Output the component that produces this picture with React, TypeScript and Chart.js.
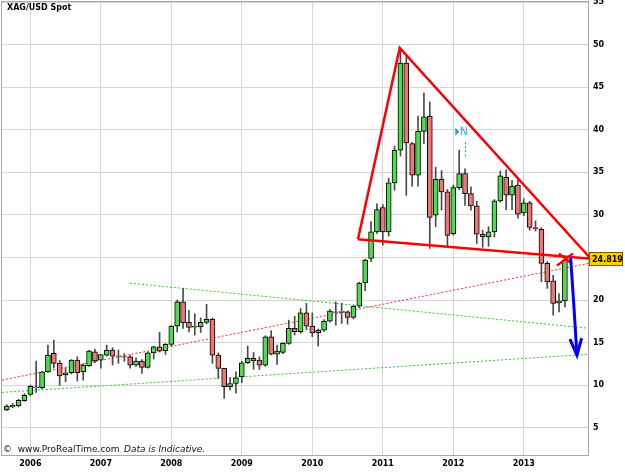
import React, { useEffect, useRef } from "react";
import { Chart, registerables } from "chart.js";

Chart.register(...registerables);

// Monthly candles, Sep 2005 .. Aug 2013 (index 0 = Sep 2005)
const opens = [
  7.08, 7.45, 7.55, 8.17,
  8.92, 9.8, 9.7, 11.57, 13.73, 12.56, 11.2, 11.46, 12.94, 11.57, 12.28, 13.92,
  12.94, 13.53, 14.12, 13.4, 13.35, 13.33, 12.36, 12.83, 12.1, 13.8, 14.5, 14.04,
  14.8, 16.94, 19.79, 17.37, 16.8, 16.85, 17.37, 17.72, 13.53, 11.97, 9.82, 10.2,
  11.0, 12.63, 13.14, 12.94, 12.36, 15.68, 13.65, 13.85, 14.9, 16.67, 16.27, 18.5,
  16.94, 16.15, 16.47, 17.52, 18.6, 18.55, 18.6, 17.96, 19.28, 22.0, 24.88, 28.0,
  30.87, 28.0, 33.75, 37.6, 47.84, 38.38, 34.66, 39.8, 41.6, 29.97, 34.2, 32.7,
  27.8, 33.2, 34.86, 32.5, 31.05, 27.73, 27.42, 28.0, 31.64, 34.4, 32.3, 33.5,
  30.23, 31.4, 28.52, 28.3, 24.3, 22.25, 19.67, 19.9,
];
const highs = [
  7.7, 7.85, 8.35, 9.0,
  10.0, 12.83, 11.6, 14.7, 15.3, 12.9, 12.0, 13.0, 13.33, 12.5, 14.1, 14.24,
  13.6, 14.7, 14.4, 14.12, 13.7, 13.5, 13.2, 13.0, 13.9, 14.6, 16.2, 14.9,
  17.0, 20.0, 21.36, 18.8, 18.4, 17.9, 19.5, 17.9, 13.8, 12.0, 10.87, 11.57,
  12.8, 14.59, 13.85, 13.33, 15.8, 16.4, 14.7, 15.0, 17.64, 18.1, 19.0, 19.6,
  18.5, 16.6, 17.7, 18.9, 19.8, 19.64, 18.7, 19.4, 22.1, 24.8, 29.2, 31.3,
  31.2, 34.3, 38.06, 49.5, 48.6, 38.5, 41.6, 44.3, 43.26, 35.6, 35.2, 33.0,
  33.5, 37.6, 35.4, 33.3, 31.6, 28.2, 28.6, 31.8, 35.16, 35.3, 34.07, 34.27,
  31.9, 31.6, 29.3, 28.5, 24.5, 22.9, 20.77, 24.9,
];
const lows = [
  7.0, 7.35, 7.45, 8.1,
  8.8, 9.15, 9.6, 11.5, 12.0, 10.0, 10.4, 11.3, 10.5, 10.6, 12.2, 12.6,
  12.0, 13.4, 12.36, 12.56, 12.8, 12.0, 12.2, 11.38, 12.0, 13.06, 13.9, 13.6,
  14.6, 16.26, 16.66, 16.26, 15.9, 16.2, 17.2, 12.56, 10.8, 8.45, 9.43, 9.07,
  10.28, 12.52, 11.85, 11.85, 12.2, 13.55, 12.44, 13.7, 14.8, 15.9, 16.1, 16.5,
  15.7, 14.59, 16.3, 17.4, 17.05, 17.25, 17.17, 17.8, 19.1, 21.1, 24.5, 27.8,
  26.44, 27.5, 32.9, 36.9, 32.3, 33.37, 33.37, 38.38, 26.06, 28.6, 30.55, 26.25,
  27.6, 33.0, 31.1, 30.55, 26.64, 26.18, 26.3, 27.4, 31.5, 30.6, 30.6, 29.6,
  29.9, 28.2, 28.1, 22.14, 21.36, 18.22, 18.6, 19.2,
];
const closes = [
  7.55, 7.62, 8.22, 8.8,
  9.86, 9.7, 11.57, 13.53, 12.56, 11.1, 11.46, 12.94, 11.46, 12.36, 14.0, 12.86,
  13.6, 14.12, 13.42, 13.45, 13.28, 12.36, 12.83, 12.1, 13.8, 14.5, 14.0, 14.8,
  16.94, 19.79, 17.32, 16.78, 16.9, 17.37, 17.72, 13.53, 11.97, 9.82, 10.2, 10.87,
  12.63, 13.14, 12.86, 12.36, 15.68, 13.65, 14.0, 14.9, 16.67, 16.27, 18.5, 16.94,
  16.15, 16.47, 17.52, 18.7, 18.55, 18.65, 17.96, 19.28, 22.0, 24.68, 28.0, 30.63,
  28.0, 33.75, 37.6, 47.84, 38.45, 34.66, 39.8, 41.5, 29.7, 34.2, 32.7, 27.6,
  33.2, 34.86, 32.5, 31.05, 27.73, 27.42, 28.0, 31.64, 34.58, 32.3, 33.37, 30.08,
  31.4, 28.52, 28.36, 24.3, 22.14, 19.6, 19.9, 24.68,
];

const yearLabels = ["2006", "2007", "2008", "2009", "2010", "2011", "2012", "2013"];
const yearTickIndex = [4, 16, 28, 40, 52, 64, 76, 88];
const priceTicks = [5, 10, 15, 20, 25, 30, 35, 40, 45, 50, 55];
const lastPrice = 24.819;

// Drawn analysis lines, in (month index, price) coordinates
const triangleLine = [
  { x: 59.78, y: 27.15 },
  { x: 66.88, y: 49.61 },
  { x: 99.4, y: 24.86 },
  { x: 59.78, y: 27.15 },
];
const crossA = [{ x: 93.65, y: 24.04 }, { x: 96.37, y: 25.45 }];
const crossB = [{ x: 93.99, y: 25.45 }, { x: 96.2, y: 24.27 }];
const arrowShaft = [{ x: 95.98, y: 24.91 }, { x: 96.54, y: 19.16 }, { x: 97.05, y: 13.52 }];
const arrowHead = [{ x: 95.86, y: 15.41 }, { x: 97.05, y: 13.52 }, { x: 97.85, y: 15.53 }];
const redTrend = [{ x: -0.82, y: 10.6 }, { x: 99.27, y: 24.34 }];
const greenUpper = [{ x: 20.97, y: 21.98 }, { x: 98.76, y: 16.7 }];
const greenLower = [{ x: -0.82, y: 9.15 }, { x: 98.76, y: 13.62 }];
const newsMarkLine = [{ x: 78.08, y: 38.53 }, { x: 78.08, y: 36.77 }];
const newsMark = { x: 77.2, y: 39.75 };

const GREEN = "#4cdc4c";
const RED = "#ef7474";

const overlayPlugin = {
  id: "overlay",
  beforeDatasetsDraw(chart: any) {
    const { ctx, chartArea } = chart;
    ctx.save();
    ctx.strokeStyle = "#a8a8a8";
    ctx.lineWidth = 1;
    ctx.strokeRect(chartArea.left - 0.5, chartArea.top - 0.5, chartArea.right - chartArea.left + 1, chartArea.bottom - chartArea.top + 1);
    ctx.restore();
  },
  afterDraw(chart: any) {
    const { ctx, chartArea, scales } = chart;
    ctx.save();
    // title
    ctx.fillStyle = "#000";
    ctx.font = "bold 8px 'DejaVu Sans'";
    ctx.textBaseline = "middle";
    ctx.textAlign = "left";
    ctx.fillText("XAG/USD Spot", chartArea.left + 5, chartArea.top + 6);
    // footer
    ctx.font = "9px 'DejaVu Sans'";
    ctx.fillStyle = "#111";
    ctx.fillText("©  www.ProRealTime.com", chartArea.left + 1, chartArea.bottom - 5);
    ctx.font = "italic 9px 'DejaVu Sans'";
    ctx.fillText("Data is Indicative.", chartArea.left + 122, chartArea.bottom - 5);
    // news marker
    const nx = scales.x.getPixelForValue(newsMark.x);
    const ny = scales.y.getPixelForValue(newsMark.y);
    ctx.fillStyle = "#1ea0e6";
    ctx.beginPath();
    ctx.moveTo(nx - 5, ny - 4);
    ctx.lineTo(nx - 1, ny);
    ctx.lineTo(nx - 5, ny + 4);
    ctx.closePath();
    ctx.fill();
    ctx.font = "10px 'DejaVu Sans'";
    ctx.fillText("N", nx, ny + 0.5);
    // last price tag
    const py = scales.y.getPixelForValue(lastPrice);
    const bx = chartArea.right + 1;
    ctx.fillStyle = "#ffcc00";
    ctx.fillRect(bx, py - 7, 34, 14);
    ctx.strokeStyle = "#7a5a00";
    ctx.lineWidth = 1;
    ctx.strokeRect(bx + 0.5, py - 6.5, 33, 13);
    ctx.fillStyle = "#000";
    ctx.font = "bold 8px 'DejaVu Sans'";
    ctx.textAlign = "left";
    ctx.fillText(lastPrice.toFixed(3), bx + 3, py + 0.5);
    ctx.restore();
  },
};

function lineDs(data: any[], color: string, width: number, dash: number[] = [], order = 0) {
  return {
    type: "line",
    data,
    borderColor: color,
    borderWidth: width,
    borderDash: dash,
    pointRadius: 0,
    fill: false,
    tension: 0,
    clip: false,
    order,
  };
}

export default function App() {
  const ref = useRef<HTMLCanvasElement | null>(null);
  useEffect(() => {
    document.body.style.margin = "0";
    const wicks = lows.map((l, i) => ({ x: i, y: [l, highs[i]] }));
    const bodies = opens.map((o, i) => ({ x: i, y: [o, closes[i]] }));
    const colors = opens.map((o, i) => (closes[i] >= o ? GREEN : RED));
    const chart = new Chart(ref.current as HTMLCanvasElement, {
      type: "bar",
      data: {
        datasets: [
          lineDs(greenUpper, "#2ecc2e", 1, [2, 2], 5),
          lineDs(greenLower, "#2ecc2e", 1, [2, 2], 5),
          lineDs(redTrend, "#ff2a2a", 1, [2, 2], 5),
          { type: "bar", data: wicks, backgroundColor: "#4a4a4a", barThickness: 1, grouped: false, order: 4 } as any,
          {
            type: "bar",
            data: bodies,
            backgroundColor: colors,
            borderColor: "#000",
            borderWidth: 1,
            borderSkipped: false,
            barThickness: 5,
            grouped: false,
            order: 3,
          } as any,
          lineDs(newsMarkLine, "#1ea0e6", 1, [2, 2], 2),
          lineDs(triangleLine, "#ff0000", 2.5, [], 1),
          lineDs(crossA, "#ff0000", 2.5, [], 1),
          lineDs(crossB, "#ff0000", 2.5, [], 1),
          lineDs(arrowShaft, "#0000ff", 3, [], 0),
          lineDs(arrowHead, "#0000ff", 3, [], 0),
        ] as any,
      },
      options: {
        animation: false,
        responsive: false,
        maintainAspectRatio: false,
        layout: { padding: { left: 2, top: 2, right: 0, bottom: 0 } },
        plugins: { legend: { display: false }, tooltip: { enabled: false }, title: { display: false } },
        scales: {
          x: {
            type: "linear",
            offset: false,
            min: -0.82,
            max: 98.93,
            afterBuildTicks: (s: any) => {
              s.ticks = yearTickIndex.map((v) => ({ value: v }));
            },
            afterFit: (s: any) => {
              s.height = 20;
              s.paddingLeft = 0;
              s.paddingRight = 0;
            },
            ticks: {
              autoSkip: false,
              maxRotation: 0,
              padding: 4,
              color: "#000",
              font: { family: "DejaVu Sans", size: 8, weight: "bold" },
              callback: (v: any) => yearLabels[yearTickIndex.indexOf(Number(v))] ?? "",
            },
            grid: { color: "#d6d6d6", lineWidth: 1, drawTicks: false, offset: false },
            border: { color: "#a8a8a8" },
          },
          y: {
            type: "linear",
            position: "right",
            min: 1.8,
            max: 55,
            afterBuildTicks: (s: any) => {
              s.ticks = priceTicks.map((v) => ({ value: v }));
            },
            afterFit: (s: any) => {
              s.width = 37;
              s.paddingTop = 0;
              s.paddingBottom = 0;
            },
            ticks: {
              padding: 5,
              color: "#000",
              font: { family: "DejaVu Sans", size: 8, weight: "bold" },
              callback: (v: any) => String(v),
            },
            grid: { color: "#d6d6d6", lineWidth: 1, drawTicks: false },
            border: { color: "#a8a8a8" },
          },
        },
      },
      plugins: [overlayPlugin],
    } as any);
    return () => chart.destroy();
  }, []);
  return (
    <canvas
      ref={ref}
      width={625}
      height={475}
      style={{ position: "absolute", left: 0, top: 0, width: 625, height: 475, display: "block" }}
    />
  );
}
